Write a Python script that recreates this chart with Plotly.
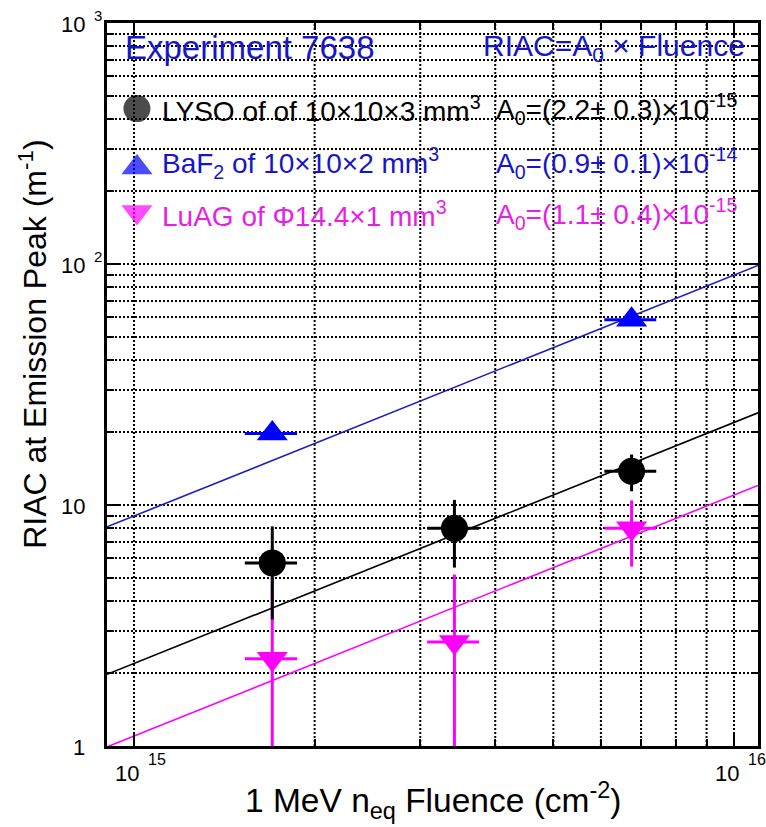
import math
import plotly.graph_objects as go

# 1 MeV equivalent neutron fluence (cm^-2) and RIAC at emission peak (m^-1)
lyso_fluence = [1.70e15, 3.42e15, 6.75e15]
lyso_fluence_err = [0.17e15, 0.34e15, 0.67e15]
lyso_riac = [5.75, 8.0, 13.8]
lyso_riac_err = [2.4, 2.5, 2.4]

baf2_fluence = [1.70e15, 6.75e15]
baf2_fluence_err = [0.17e15, 0.67e15]
baf2_riac = [19.8, 58.7]
baf2_riac_err = [1.0, 3.0]

luag_fluence = [1.70e15, 3.42e15, 6.75e15]
luag_fluence_err = [0.17e15, 0.34e15, 0.67e15]
luag_riac = [2.3, 2.7, 8.0]
luag_riac_err = [2.65, 2.45, 2.45]

# Fitted slopes of RIAC = A0 x Fluence
a0_lyso = 2.2e-15
a0_baf2 = 0.9e-14
a0_luag = 1.1e-15

# Axis ranges (log10)
x_log_range = [14.955, 16.04]
y_log_range = [0, 3]

# Tick positions and labels (mantissa, exponent)
x_major = [1e15, 1e16]
x_major_labels = [("10", "15"), ("10", "16")]
x_minor = [m * 10 ** e for e in (14, 15) for m in range(2, 10)]
y_major = [1, 10, 100, 1000]
y_major_labels = [("1", ""), ("10", ""), ("10", "2"), ("10", "3")]
y_minor = [m * 10 ** e for e in (0, 1, 2) for m in range(2, 10)]

BLACK = "#000000"
BLUE = "#0000ff"
BLUE_TXT = "#1616c8"
BLUE_LINE = "#1c1cc0"
MAGENTA = "#ff00ff"
MAGENTA_TXT = "#e61ee6"
FONT = "Liberation Sans, Arial, sans-serif"

TRI_SIZE = 27
DOT_SIZE = 27
GRID_DASH = "2px,2px"
GRID_WIDTH = 1.6

fit_fluence = [10 ** x_log_range[0], 10 ** x_log_range[1]]


def frac_to_x(f):
    return 10 ** (x_log_range[0] + f * (x_log_range[1] - x_log_range[0]))


def frac_to_y(f):
    return 10 ** (y_log_range[0] + f * (y_log_range[1] - y_log_range[0]))


fig = go.Figure()

# Fit lines
for a0, col in ((a0_baf2, BLUE_LINE), (a0_lyso, BLACK), (a0_luag, MAGENTA)):
    fig.add_trace(go.Scatter(
        x=fit_fluence, y=[a0 * f for f in fit_fluence], mode="lines",
        line=dict(color=col, width=1.6), hoverinfo="skip", showlegend=False))


def points(fx, fxe, ry, rye, symbol, color, size):
    return go.Scatter(
        x=fx, y=ry, mode="markers", showlegend=False,
        marker=dict(symbol=symbol, color=color, size=size, line=dict(width=0)),
        error_x=dict(type="data", array=fxe, color=color, thickness=3, width=0),
        error_y=dict(type="data", array=rye, color=color, thickness=3, width=0),
    )


fig.add_trace(points(luag_fluence, luag_fluence_err, luag_riac, luag_riac_err,
                     "triangle-down", MAGENTA, TRI_SIZE))
fig.add_trace(points(lyso_fluence, lyso_fluence_err, lyso_riac, lyso_riac_err,
                     "circle", BLACK, DOT_SIZE))
fig.add_trace(points(baf2_fluence, baf2_fluence_err, baf2_riac, baf2_riac_err,
                     "triangle-up", BLUE, TRI_SIZE))

# Legend keys, placed by fraction of the plotting area
key_fx = 0.046
key_fy = [0.8816, 0.8000, 0.7385]
fig.add_trace(go.Scatter(
    x=[frac_to_x(key_fx)] * 3, y=[frac_to_y(f) for f in key_fy],
    mode="markers", showlegend=False, hoverinfo="skip",
    marker=dict(symbol=["circle", "triangle-up", "triangle-down"],
                color=[BLACK, BLUE, MAGENTA], size=[DOT_SIZE, TRI_SIZE, TRI_SIZE],
                line=dict(width=0))))

axis_common = dict(
    type="log", showline=True, linecolor=BLACK, linewidth=2.5, mirror="allticks",
    ticks="inside", ticklen=14, tickwidth=2, tickcolor=BLACK,
    tickmode="array", zeroline=False, showticklabels=False,
)
minor_common = dict(tickmode="array", ticks="inside", ticklen=7, tickwidth=1.5,
                    tickcolor=BLACK)

fig.update_layout(
    width=766, height=827,
    margin=dict(l=107, r=5, t=23, b=81),
    paper_bgcolor="white", plot_bgcolor="white",
    font=dict(family=FONT, color=BLACK),
    xaxis=dict(**axis_common, range=x_log_range, tickvals=x_major, showgrid=False,
               minor=dict(**minor_common, tickvals=x_minor, showgrid=False)),
    yaxis=dict(**axis_common, range=y_log_range, tickvals=y_major,
               showgrid=True, gridcolor=BLACK, gridwidth=GRID_WIDTH, griddash=GRID_DASH,
               minor=dict(**minor_common, tickvals=y_minor, showgrid=True,
                          gridcolor=BLACK, gridwidth=GRID_WIDTH, griddash=GRID_DASH)),
)

# Vertical dotted grid at every fluence tick, above the grid layer and under the data
x_lo, x_hi = 10 ** x_log_range[0], 10 ** x_log_range[1]
for v in sorted(x_major + x_minor):
    if x_lo < v < x_hi:
        fig.add_shape(type="line", xref="x", yref="paper", x0=v, x1=v, y0=0, y1=1,
                      layer="between",
                      line=dict(color=BLACK, width=2, dash=GRID_DASH))

TICK_SIZE = 22
X_EXP_SIZE = 16
Y_EXP_SIZE = 15

# Decade tick labels, mantissa and exponent set separately
for val, (base, exp) in zip(x_major, x_major_labels):
    lx = math.log10(val)
    fig.add_annotation(text=base, x=lx, y=-0.0378, xref="x", yref="paper",
                       xanchor="center", yanchor="middle", xshift=-7.5, showarrow=False,
                       font=dict(family=FONT, size=TICK_SIZE, color=BLACK))
    fig.add_annotation(text=exp, x=lx, y=-0.0184, xref="x", yref="paper",
                       xanchor="left", yanchor="middle", xshift=12, showarrow=False,
                       font=dict(family=FONT, size=X_EXP_SIZE, color=BLACK))

for val, (base, exp) in zip(y_major, y_major_labels):
    ly = math.log10(val)
    fig.add_annotation(text=base, x=-0.031, y=ly, xref="paper", yref="y",
                       xanchor="right", yanchor="middle", yshift=-1, showarrow=False,
                       font=dict(family=FONT, size=TICK_SIZE, color=BLACK))
    if exp:
        fig.add_annotation(text=exp, x=-0.0225, y=ly, xref="paper", yref="y",
                           xanchor="left", yanchor="middle", yshift=8, showarrow=False,
                           font=dict(family=FONT, size=Y_EXP_SIZE, color=BLACK))

row_font = 28
row_y = [0.8816, 0.8066, 0.7360]
notes = [
    ("Experiment 7638", 0.025, 0.9657, "left", BLUE_TXT, 33),
    ("RIAC=A<sub>0</sub> \u00d7 Fluence", 0.9837, 0.9657, "right", BLUE_TXT, 30),
    ("LYSO of of 10\u00d710\u00d73 mm<sup>3</sup>", 0.0815, row_y[0], "left", BLACK, row_font),
    ("BaF<sub>2</sub> of 10\u00d710\u00d72 mm<sup>3</sup>", 0.0815, row_y[1], "left", BLUE_TXT, row_font),
    ("LuAG of \u03a614.4\u00d71 mm<sup>3</sup>", 0.0815, row_y[2], "left", MAGENTA_TXT, row_font),
    ("A<sub>0</sub>=(2.2\u00b1 0.3)\u00d710<sup>-15</sup>", 0.594, row_y[0], "left", BLACK, row_font),
    ("A<sub>0</sub>=(0.9\u00b1 0.1)\u00d710<sup>-14</sup>", 0.594, row_y[1], "left", BLUE_TXT, row_font),
    ("A<sub>0</sub>=(1.1\u00b1 0.4)\u00d710<sup>-15</sup>", 0.594, row_y[2], "left", MAGENTA_TXT, row_font),
]
for text, x, y, anchor, col, size in notes:
    fig.add_annotation(text=text, x=x, y=y, xref="paper", yref="paper",
                       xanchor=anchor, yanchor="middle", showarrow=False,
                       font=dict(family=FONT, size=size, color=col))

# Axis titles
fig.add_annotation(text="1 MeV n<sub>eq</sub> Fluence (cm<sup>-2</sup>)",
                   x=0.5, y=-0.075, xref="paper", yref="paper", xanchor="center",
                   yanchor="middle", showarrow=False,
                   font=dict(family=FONT, size=33.5, color=BLACK))
fig.add_annotation(text="RIAC at Emission Peak (m<sup>-1</sup>)",
                   x=-0.114, y=0.556, xref="paper", yref="paper", xanchor="center",
                   yanchor="middle", showarrow=False, textangle=-90,
                   font=dict(family=FONT, size=32, color=BLACK))

fig.write_html("out.html")
